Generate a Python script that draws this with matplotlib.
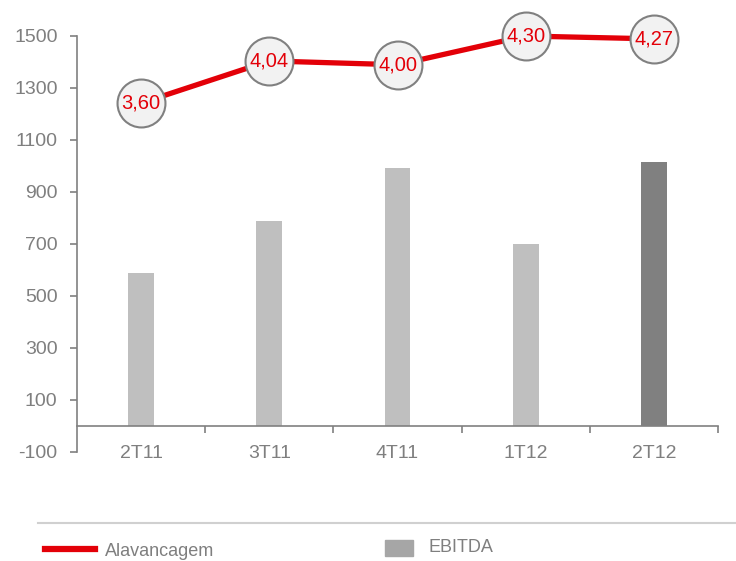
import matplotlib
matplotlib.use("Agg")
import matplotlib.pyplot as plt
from matplotlib.lines import Line2D
from matplotlib.patches import Rectangle

plt.rcParams['font.family'] = ['Liberation Sans', 'DejaVu Sans']

categories = ["2T11", "3T11", "4T11", "1T12", "2T12"]
ebitda = [588, 788, 992, 700, 1015]
alavancagem = [3.60, 4.04, 4.00, 4.30, 4.27]
bar_colors = ["#bfbfbf", "#bfbfbf", "#bfbfbf", "#bfbfbf", "#808080"]
yticks = list(range(-100, 1501, 200))

GRAY = "#808080"
TXT = "#7f7f7f"
RED = "#e30008"

fig = plt.figure(figsize=(7.36, 5.61), dpi=100)
ax = fig.add_axes([77/736, 1-452/561, 641/736, 416/561])

x = list(range(len(categories)))
ax.bar(x, ebitda, width=0.2, color=bar_colors, zorder=2)
ax.set_xlim(-0.5, len(categories) - 0.5)
ax.set_ylim(-100, 1500)
ax.set_yticks(yticks)
ax.set_yticklabels([str(t) for t in yticks], fontsize=14, color=TXT)

for s in ["top", "right"]:
    ax.spines[s].set_visible(False)
ax.spines["left"].set_color(GRAY)
ax.spines["left"].set_linewidth(1.2)
ax.spines["bottom"].set_position(("data", 0))
ax.spines["bottom"].set_color(GRAY)
ax.spines["bottom"].set_linewidth(1.2)

ax.set_xticks([i + 0.5 for i in x])
ax.set_xticklabels([])
ax.tick_params(axis="x", which="major", direction="out", length=5, color=GRAY, width=1.2)
ax.set_xticks(x, minor=True)
ax.set_xticklabels(categories, minor=True, fontsize=14, color=TXT)
ax.tick_params(axis="x", which="minor", length=0, pad=14)
ax.tick_params(axis="y", direction="out", length=5, color=GRAY, width=1.2, pad=9)

ax2 = ax.twinx()
ax2.set_ylim(-0.04, 4.30)
ax2.axis("off")
ax2.plot(x, alavancagem, color=RED, lw=3.8, zorder=3, solid_capstyle="butt", clip_on=False)
ax2.plot(x, alavancagem, linestyle="none", marker="o", markersize=34.5,
         markerfacecolor="#f2f2f2", markeredgecolor=GRAY, markeredgewidth=1.5,
         zorder=4, clip_on=False)
for xi, v in zip(x, alavancagem):
    ax2.text(xi, v, f"{v:.2f}".replace(".", ","), ha="center", va="center",
             fontsize=14.5, color=RED, zorder=5, clip_on=False)

# legend area
fig.add_artist(Line2D([38/736, 1.0], [1-523/561, 1-523/561], color="#d0d0d0", lw=1.5))
fig.add_artist(Line2D([45/736, 95/736], [1-549/561, 1-549/561], color=RED, lw=4.5))
fig.text(105/736, 1-551/561, "Alavancagem", fontsize=13, color=TXT, va="center", ha="left")
fig.add_artist(Rectangle((385/736, 1-556/561), 28/736, 16/561, color="#a6a6a6",
                         transform=fig.transFigure))
fig.text(428/736, 1-548/561, "EBITDA", fontsize=13, color=TXT, va="center", ha="left")

fig.savefig("out.png", dpi=100)
